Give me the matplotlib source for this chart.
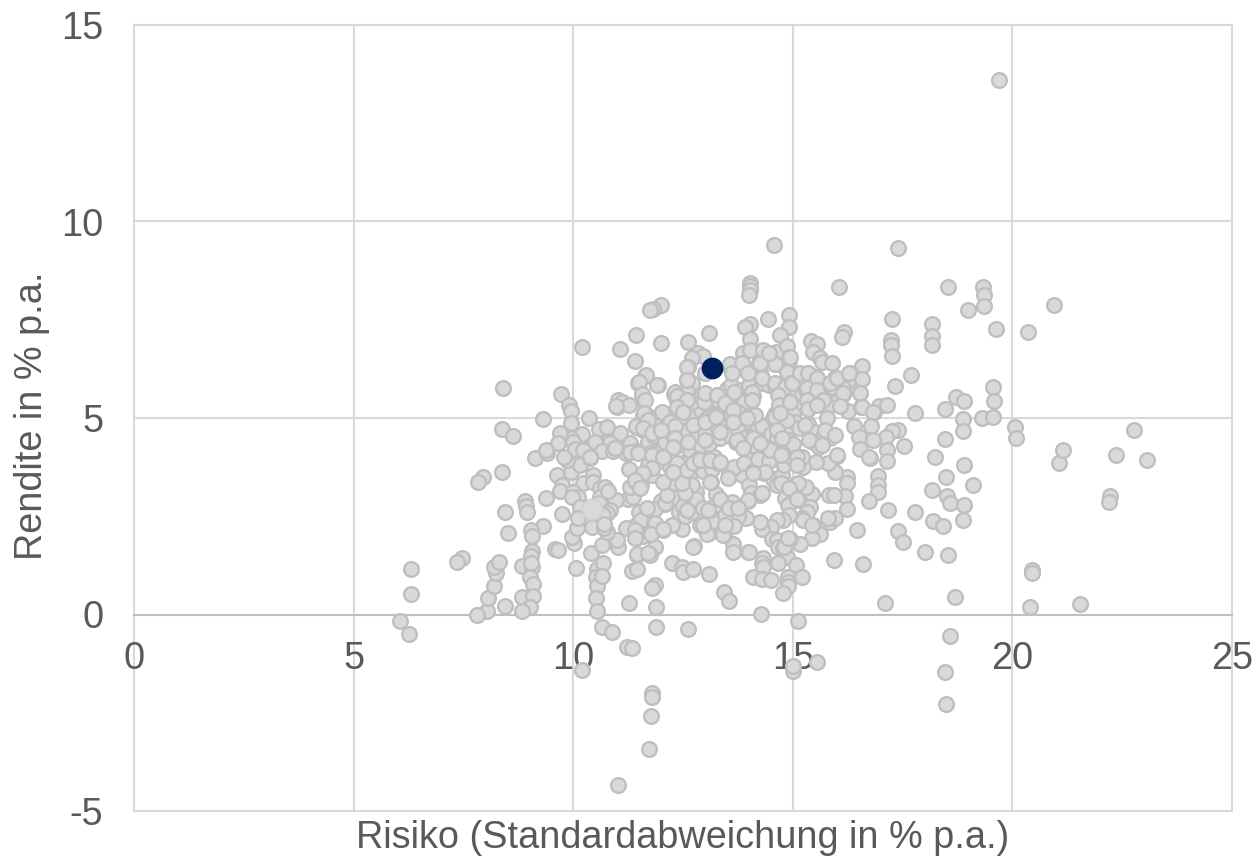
"""Risk/return scatter of funds."""

import matplotlib
matplotlib.use("Agg")
import matplotlib.pyplot as plt

# (risk, return) pairs, per region
edge_pts = [
    (19.7,13.6),(14.57,9.4),(17.4,9.32),(16.05,8.33),(17.26,7.52),(17.24,6.98),(17.24,6.86),(17.26,6.58),
    (16.17,7.19),(16.12,7.06),(14.02,8.43),(14.02,8.35),(14.02,8.25),(14.0,8.12),(14.91,7.62),(14.91,7.32),
    (14.43,7.52),(14.02,7.39),(13.92,7.31),(14.71,7.11),(14.02,7.0),(12.0,7.87),(11.82,7.77),(13.09,7.16),
    (12.0,6.9),(12.61,6.94),(12.84,6.65),(12.96,6.58),(12.7,6.52),(12.61,6.3),(12.59,6.0),(12.7,5.9),
    (13.0,6.15),(11.93,5.84),(13.55,6.32),(13.8,6.37),(13.87,6.65),(14.02,6.73),(14.32,6.73),(14.46,6.65),
    (14.62,6.68),(14.87,6.83),(14.91,6.55),(14.91,6.45),(14.62,6.37),(14.87,6.17),(14.23,6.4),(14.25,6.17),
    (15.41,6.96),(15.55,6.88),(15.46,6.68),(15.62,6.52),(15.66,6.42),(15.89,6.4),(16.58,6.32),(16.3,6.15),
    (16.26,5.95),(16.58,6.0),(15.96,6.02),(15.85,5.84),(16.14,5.76),(16.14,5.61),(16.53,5.63),(15.96,5.38),
    (16.1,5.3),(16.26,5.18),(16.55,5.28),(16.85,5.15),(16.96,5.3),(17.14,5.33),(17.33,5.82),
    (17.69,6.09),(17.78,5.13),(17.4,4.7),(17.26,4.67),(17.53,4.29),(17.12,4.52),(17.14,4.19),(17.14,3.9),
    (17.17,2.66),(17.78,2.61),(17.4,2.12),(17.51,1.85),(18.01,1.59),(17.1,0.29),(16.6,1.29),
    (18.17,7.39),(18.17,7.09),(18.17,6.86),(18.53,8.33),(18.47,5.23),(18.72,5.53),(18.9,5.43),(18.99,7.75),
    (19.33,8.33),(19.35,8.13),(19.35,7.85),(19.63,7.26),(19.56,5.79),(19.58,5.43),(19.31,5.0),(19.56,5.03),
    (18.88,4.97),(18.88,4.67),(18.47,4.47),(18.24,4.0),(18.49,3.5),(18.9,3.8),(18.17,3.17),(18.51,3.01),
    (18.58,2.84),(19.1,3.3),(18.9,2.79),(18.19,2.38),(18.42,2.25),(18.88,2.4),(18.53,1.51),(18.69,0.45),
    (18.58,-0.55),(18.47,-1.46),(18.49,-2.28),(20.06,4.77),(20.08,4.49),(20.35,7.19),(20.95,7.87),
    (21.06,3.85),(21.15,4.19),(20.45,1.13),(20.45,1.06),(20.4,0.19),(21.54,0.27),(22.22,3.01),(22.2,2.86),
    (22.36,4.06),(22.77,4.69),(23.06,3.93),
]
lower_right_pts = [
    (16.76,3.98),(16.94,3.52),(16.94,3.3),(16.94,3.12),(16.73,2.89),(16.46,2.15),(15.94,1.39),
    (16.23,3.5),(16.23,3.34),(16.19,3.02),(15.82,3.04),(15.94,3.04),(16.23,2.68),(15.96,3.63),(16.0,4.03),
    (15.8,3.85),(15.53,3.88),(15.23,3.75),(15.44,3.07),(15.39,2.74),(15.32,2.61),(15.2,2.45),(15.46,2.28),
    (15.62,2.05),(15.44,1.95),(15.16,1.79),(14.94,1.92),(15.85,2.35),(15.96,2.45),(15.8,2.45),(15.09,2.91),
    (14.82,2.96),(14.89,2.78),(14.91,2.53),(14.78,2.4),(14.64,2.4),(14.5,2.23),(14.3,2.18),(14.25,2.35),
    (14.53,1.92),(14.64,1.9),(14.66,1.72),(14.78,1.69),(14.87,1.46),(15.07,1.26),(14.66,1.31),(14.32,1.44),
    (14.3,1.31),(14.32,1.21),(14.09,0.95),(14.3,0.9),(14.5,0.88),(14.89,0.95),(14.89,0.83),(14.89,0.73),
    (14.78,0.55),(15.21,0.95),(14.28,0.01),(15.12,-0.17),(13.98,1.59),(13.64,1.79),(13.64,1.59),(13.43,2.02),
    (13.09,1.03),(12.75,1.74),(12.25,1.31),(12.48,1.21),(12.5,1.08),(12.73,1.16),(13.43,0.57),(13.55,0.34),
    (11.86,0.75),(11.79,0.67),(11.89,0.19),(11.89,-0.32),(12.61,-0.37),(11.86,1.72),(11.75,1.51),(13.09,2.07),
    (12.89,2.28),(12.96,2.23),(13.46,2.3),(13.18,2.38),(12.48,2.18),(12.05,2.15),(12.25,2.28),(11.75,2.07),
    (13.93,2.45),(13.75,2.5),(13.46,2.53),(13.11,2.66),(13.98,2.89),(13.62,2.87),(14.3,3.09),(13.25,3.07),
    (12.8,3.12),(13.84,3.55),(13.14,3.37),(14.75,3.34),(14.94,3.22),
    (15.0,-1.45),(15.0,-1.3),(15.55,-1.2),(11.8,-2.0),(11.8,-2.1),(11.78,-2.58),(11.72,-3.42),(11.02,-4.34),
]
left_pts = [
    (9.13,3.98),(9.4,4.1),(7.95,3.5),(7.83,3.37),(8.38,3.62),(8.9,2.89),(8.93,2.76),(8.95,2.61),(9.38,2.96),
    (8.45,2.61),(8.52,2.07),(9.74,2.56),(9.31,2.25),(9.04,2.15),(9.06,2.0),(9.06,1.62),(9.05,1.5),(9.59,1.67),
    (9.65,1.65),(10.02,1.82),(9.97,1.97),(10.09,2.2),(10.06,1.18),(10.41,1.56),(10.43,2.23),(8.83,1.23),
    (9.06,1.21),(9.05,1.3),(9.02,0.95),(9.08,0.78),(8.83,0.45),(9.08,0.47),(9.02,0.19),(8.83,0.09),(8.45,0.22),
    (8.04,0.09),(7.81,-0.01),(8.06,0.42),(8.2,0.73),(8.24,1.06),(8.2,1.21),(8.31,1.34),(7.47,1.44),(7.35,1.34),
    (6.31,1.16),(6.31,0.52),(6.26,-0.5),(6.06,-0.17),(10.54,1.16),(10.52,0.95),(10.54,0.73),(10.52,0.42),
    (10.54,0.09),(10.68,1.31),(10.66,0.98),(10.66,1.77),(11.02,1.72),(11.0,1.9),(10.77,2.1),(10.7,2.2),
    (11.27,0.29),(10.66,-0.32),(10.88,-0.45),(11.22,-0.83),(11.35,-0.85),(10.2,-1.4),(11.45,1.51),(11.34,1.11),(11.45,1.16),
    (11.43,1.95),(11.43,2.15),(11.43,2.28),(11.27,3.7),(11.25,2.94),(11.36,2.99),(11.29,3.24),(10.97,2.91),
    (9.63,3.55),(9.74,3.3),(9.7,3.14),(9.95,3.63),(10.15,3.8),(9.86,3.93),(10.38,3.98),(10.45,3.55),(10.22,3.34),
    (10.45,3.37),(10.61,3.22),(10.72,3.24),(10.0,3.12),(10.11,2.99),(9.97,2.99),(10.61,2.99),(10.59,2.84),
    (10.84,2.66),(10.77,2.58),(10.68,2.53),(10.15,2.74),(10.11,2.45),(10.7,2.3),
    (8.4,5.76),(9.72,5.61),(9.9,5.33),(9.95,5.18),(10.2,6.81),(11.07,6.76),(11.43,7.11),(11.41,6.45),(11.75,7.75),
    (11.63,6.07),(11.48,5.89),(9.31,4.97),(10.36,5.0),(9.95,4.87),(8.38,4.72),(8.63,4.54),(11.0,5.28),(11.02,5.46),
    (11.11,5.41),(11.27,5.33),(11.57,5.58),(11.61,5.43),(11.59,5.08),(11.43,4.77),(11.59,4.69),(10.75,4.75),
    (10.59,4.72),(11.07,4.62),(10.2,4.59),(9.95,4.49),(9.7,4.62),(9.65,4.36),(10.56,4.36),(10.84,4.36),(11.0,4.24),
    (11.29,4.36),(9.38,4.19),(10.3,4.2),(10.4,4.05),(10.5,4.4),(10.65,4.15),(10.0,4.4),(10.05,4.2),(9.8,4.0),
    (10.9,4.15),(11.2,4.1),(10.8,3.15),(11.4,3.4),(11.55,3.3),
]
dense_pts = [
    (12.3,5.6),(12.35,5.5),(12.6,5.65),(12.9,5.55),(13.0,5.4),(13.1,5.35),(12.7,5.4),(13.3,5.45),(13.5,5.75),
    (13.6,5.85),(13.7,5.6),(13.8,5.7),(13.9,5.4),(14.05,5.65),(14.1,5.55),(14.0,5.85),(14.3,5.9),(14.45,5.85),
    (14.6,5.8),(14.7,5.55),(14.75,5.4),(14.8,5.2),(14.9,5.35),(14.95,5.9),(15.1,5.3),(15.2,5.6),(15.3,5.7),
    (15.4,6.1),(15.5,6.05),(15.55,5.75),(15.6,5.9),(15.65,5.5),(15.8,5.3),(15.9,5.8),(15.45,5.45),
    (11.7,5.05),(11.9,4.8),(12.1,5.1),(12.15,4.95),(12.4,5.15),(12.5,5.0),(12.65,5.35),(12.75,5.1),(12.9,5.2),
    (13.05,5.0),(13.2,5.1),(13.3,4.9),(13.45,5.15),(13.6,5.1),(13.7,4.95),(13.75,5.15),(13.85,4.8),(14.0,5.05),
    (14.05,4.9),(14.2,4.75),(14.3,4.8),(14.55,5.0),(14.6,5.1),(14.7,5.05),(14.75,4.85),(14.85,4.75),(15.0,5.1),
    (15.05,4.9),(15.15,4.75),(15.3,4.8),(15.35,4.85),(15.5,4.65),(15.55,4.4),
    (11.45,4.15),(11.7,4.4),(11.75,4.1),(11.85,4.55),(12.05,4.2),(12.1,4.4),(12.25,4.6),(12.35,4.3),(12.45,4.35),
    (12.6,4.7),(12.65,4.15),(12.8,4.5),(12.9,4.3),(13.0,4.6),(13.1,4.35),(13.2,4.0),(13.35,4.5),(13.5,4.65),
    (13.6,4.55),(13.7,4.4),(13.75,4.7),(13.9,4.5),(14.05,4.05),(14.15,4.3),(14.3,4.4),(14.4,4.2),(14.5,4.6),
    (14.65,4.5),(14.7,4.3),(14.8,4.1),(14.9,4.45),(15.0,4.35),(15.2,4.0),(15.45,4.4),(15.6,4.25),(15.7,4.6),(15.85,4.5),
    (11.7,3.8),(11.8,3.55),(11.95,3.9),(12.1,3.35),(12.2,3.75),(12.35,3.6),(12.4,3.7),(12.5,3.85),(12.55,3.5),
    (12.65,3.6),(12.7,3.3),(12.85,3.95),(12.95,3.65),(13.05,3.9),(13.15,3.7),(13.3,3.85),(13.55,3.6),(13.65,3.75),
    (13.9,3.85),(14.0,3.3),(14.05,3.1),(14.1,3.65),(14.2,3.95),(14.25,3.05),(14.35,3.6),(14.45,3.9),(14.55,3.45),
    (14.65,3.3),(14.75,3.55),(14.8,3.8),(14.9,3.3),(15.0,3.95),(15.1,3.2),(15.3,3.25),
    (11.2,2.2),(11.5,2.6),(11.55,2.4),(11.6,2.0),(11.8,2.65),(11.85,2.3),(12.0,2.9),(12.1,2.8),(12.3,3.0),
    (12.4,2.6),(12.5,2.75),(12.55,2.5),(12.7,2.6),(12.8,2.95),(12.95,2.7),(13.05,2.05),(13.2,2.75),(13.35,2.95),
    (13.5,2.2),(13.55,2.7),(13.65,2.25),
]
# second reading of the crowded middle
center_pts = [
    (11.66,6.09),(11.5,5.92),(11.91,5.84),(12.32,5.66),(12.36,5.56),(11.57,5.6),(11.63,5.46),(10.97,5.31),
    (12.59,6.3),(12.59,5.97),(12.7,5.41),(12.98,5.41),(12.59,5.46),(12.36,5.28),(12.5,5.15),(13.25,5.08),
    (13.0,5.64),(13.27,5.59),(12.02,5.15),(12.2,4.9),(12.32,4.8),(11.61,5.13),(11.7,4.95),(11.43,4.8),
    (11.59,4.74),(11.79,4.62),(12.0,4.69),(12.32,4.49),(12.27,4.26),(12.61,4.39),(13.0,4.44),(12.73,4.82),
    (13.0,4.9),(10.77,4.77),(10.95,4.24),(11.29,4.13),(11.48,4.11),(11.79,4.06),(12.05,4.01),(10.22,4.19),
    (10.38,4.01),(11.86,2.68),(11.68,2.71),(12.09,2.84),(12.14,3.04),(12.32,3.34),(12.55,3.09),(12.48,3.34),
    (13.11,3.37),(11.79,3.73),(11.59,3.6),(11.41,3.42),(11.52,3.22),(12.36,3.85),(12.59,3.68),(12.73,3.85),
    (12.05,3.37),(12.27,3.63),(12.89,3.93),(13.11,3.93),(13.34,3.88),(11.86,2.33),(11.41,2.15),(11.41,1.95),
    (11.77,2.05),(12.04,2.18),(12.59,2.66),(13.07,2.66),(12.96,2.28),(13.41,2.02),(12.73,1.72),(11.45,1.54),
    (11.7,1.56),(13.57,6.37),(13.84,6.4),(14.25,6.4),(14.6,6.37),(14.46,6.65),(14.94,6.55),(13.62,6.15),
    (13.98,6.15),(14.3,6.02),(14.6,5.89),(14.82,5.79),(14.98,5.89),(15.16,6.15),(15.35,6.15),(15.55,6.02),
    (15.85,5.89),(16.0,6.02),(16.28,6.15),(16.14,5.64),(16.53,5.64),(16.07,5.31),(16.58,5.28),(16.83,5.15),
    (13.27,5.59),(13.66,5.66),(14.07,5.66),(14.07,5.46),(14.66,5.59),(14.69,5.33),(14.94,5.41),(15.32,5.76),
    (15.55,5.71),(15.69,5.46),(15.32,5.46),(15.35,5.23),(15.55,5.33),(13.46,5.38),(13.64,5.2),(14.14,5.08),
    (13.96,5.0),(13.25,5.03),(13.64,4.9),(13.34,4.64),(13.73,4.44),(14.6,5.03),(14.87,4.95),(14.71,5.13),
    (15.28,4.82),(15.78,5.0),(15.73,4.69),(15.96,4.56),(15.37,4.44),(15.66,4.31),(16.39,4.8),(16.78,4.8),
    (16.51,4.52),(16.83,4.44),(16.53,4.21),(16.0,4.06),(16.73,4.01),(14.64,4.69),(14.75,4.49),(14.48,4.19),
    (14.75,4.11),(15.09,4.01),(14.09,4.49),(13.87,4.24),(14.25,4.36),(15.09,3.8),(13.52,3.47),(14.37,3.63),
    (14.73,4.06),(14.09,3.6),(14.73,3.35),(15.12,3.35),(14.91,3.22),(14.3,3.09),(13.98,2.91),(15.09,2.93),
    (15.23,2.4),(15.44,2.28),(13.75,2.71),(13.46,2.28),(14.0,1.59),(14.8,1.72),(14.89,1.95),
]
big_pt = (10.43, 2.68)
highlight_pt = (13.16, 6.27)

x_ticks = [0, 5, 10, 15, 20, 25]
y_ticks = [-5, 0, 5, 10, 15]

plt.rcParams["font.family"] = ["Liberation Sans", "DejaVu Sans"]
plt.rcParams["axes.unicode_minus"] = False

fig = plt.figure(figsize=(12.56, 8.59), dpi=100)
ax = fig.add_axes([134 / 1256, 1 - 811 / 859, 1098 / 1256, 786 / 859])

pts = edge_pts + lower_right_pts + left_pts + dense_pts + center_pts
ax.scatter([p[0] for p in pts], [p[1] for p in pts], s=112, color="#D9D9D9",
           edgecolor="#BFBFBF", linewidth=1.7, clip_on=False, zorder=3)
ax.scatter(*big_pt, s=220, color="#D9D9D9", edgecolor="#D0D0D0", linewidth=1.2, zorder=3)
ax.scatter(*highlight_pt, s=215, color="#002060", edgecolor="#002060", linewidth=1, zorder=4)

ax.set_xlim(0, 25)
ax.set_ylim(-5, 15)
ax.set_xticks(x_ticks)
ax.set_yticks(y_ticks)
ax.grid(True, color="#D9D9D9", linewidth=1.5, clip_on=False)
ax.set_axisbelow(True)
for side in ["top", "right", "left"]:
    ax.spines[side].set_visible(False)
ax.spines["bottom"].set_position(("data", 0))
ax.spines["bottom"].set_color("#BFBFBF")
ax.spines["bottom"].set_linewidth(1.5)
ax.tick_params(length=0, labelsize=27.3, labelcolor="#595959", pad=19)
ax.tick_params(axis="y", pad=22)

ax.set_xlabel("Risiko (Standardabweichung in % p.a.)", fontsize=27.3, color="#595959")
ax.set_ylabel("Rendite in % p.a.", fontsize=27.3, color="#595959")
ax.xaxis.set_label_coords(0.5, -0.034, transform=ax.transAxes)
ax.yaxis.set_label_coords(-0.0925, 0.503, transform=ax.transAxes)
ax.xaxis.label.set_verticalalignment("center")
ax.yaxis.label.set_verticalalignment("center")

fig.savefig("out.png", dpi=100)
plt.close(fig)
